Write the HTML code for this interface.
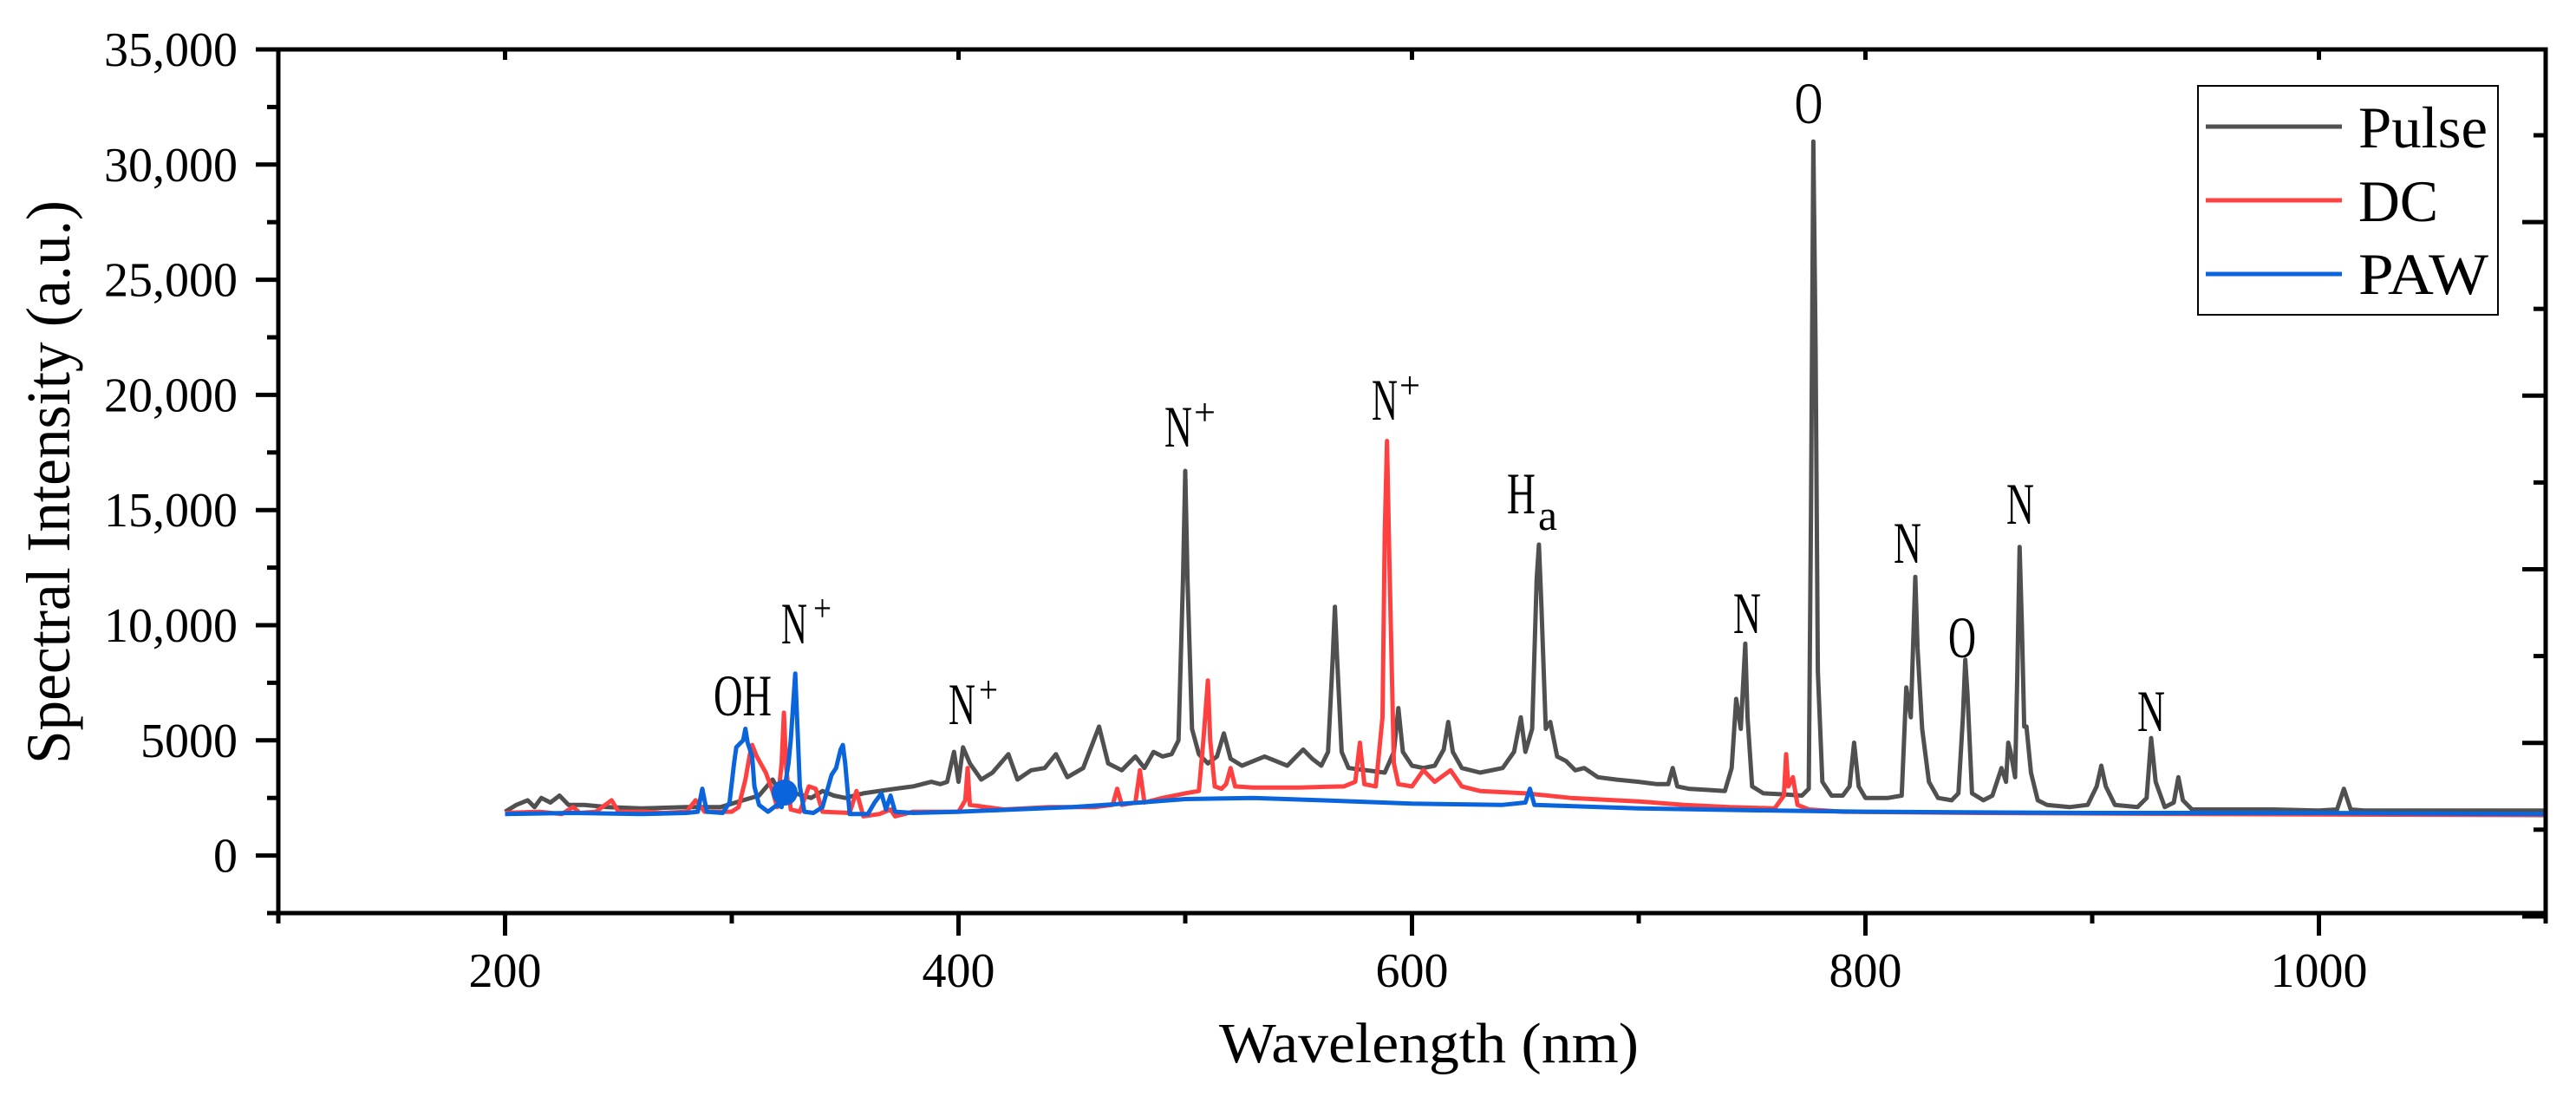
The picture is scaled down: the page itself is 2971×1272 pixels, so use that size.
<!DOCTYPE html>
<html><head><meta charset="utf-8"><style>
html,body{margin:0;padding:0;background:#fff;}
svg{display:block;font-family:"Liberation Serif",serif;}
</style></head><body>
<svg id="chart" width="2971" height="1272" viewBox="0 0 2971 1272" xmlns="http://www.w3.org/2000/svg">
<rect width="2971" height="1272" fill="#fff"/>
<g id="series"></g>
<g id="axes"></g>
<g id="labels" fill="#000">
  <text x="823" y="825" font-size="68" textLength="67" lengthAdjust="spacingAndGlyphs">OH</text>
  <text x="901" y="742" font-size="68" textLength="30" lengthAdjust="spacingAndGlyphs">N</text>
  <text x="938" y="716" font-size="44" textLength="21" lengthAdjust="spacingAndGlyphs">+</text>
  <text x="1094" y="835" font-size="68" textLength="31" lengthAdjust="spacingAndGlyphs">N</text>
  <text x="1129" y="810" font-size="44" textLength="22" lengthAdjust="spacingAndGlyphs">+</text>
  <text x="1343" y="515" font-size="68" textLength="32" lengthAdjust="spacingAndGlyphs">N</text>
  <text x="1377" y="490" font-size="44" textLength="25" lengthAdjust="spacingAndGlyphs">+</text>
  <text x="1582" y="484" font-size="68" textLength="30" lengthAdjust="spacingAndGlyphs">N</text>
  <text x="1614" y="459" font-size="44" textLength="24" lengthAdjust="spacingAndGlyphs">+</text>
  <text x="1738" y="592" font-size="68" textLength="33" lengthAdjust="spacingAndGlyphs">H</text>
  <text x="1774" y="611" font-size="50" textLength="22" lengthAdjust="spacingAndGlyphs">a</text>
  <text x="1999" y="730" font-size="68" textLength="32" lengthAdjust="spacingAndGlyphs">N</text>
  <text x="2070" y="142" font-size="68" textLength="32" lengthAdjust="spacingAndGlyphs">O</text>
  <text x="2184" y="649" font-size="68" textLength="32" lengthAdjust="spacingAndGlyphs">N</text>
  <text x="2247" y="758" font-size="68" textLength="32" lengthAdjust="spacingAndGlyphs">O</text>
  <text x="2314" y="604" font-size="68" textLength="32" lengthAdjust="spacingAndGlyphs">N</text>
  <text x="2465" y="843" font-size="68" textLength="32" lengthAdjust="spacingAndGlyphs">N</text>
</g>
<circle cx="905" cy="914" r="15" fill="#0a64dc"/>
<g>
  <rect x="2535" y="99" width="346" height="264" fill="#fff" stroke="#000" stroke-width="2"/>
  <line x1="2544" y1="146" x2="2701" y2="146" stroke="#505050" stroke-width="5"/>
  <line x1="2544" y1="231" x2="2701" y2="231" stroke="#ff4040" stroke-width="5"/>
  <line x1="2544" y1="316" x2="2701" y2="316" stroke="#0a64dc" stroke-width="5"/>
  <text x="2720" y="170" font-size="68" textLength="149" lengthAdjust="spacingAndGlyphs">Pulse</text>
  <text x="2720" y="255" font-size="68" textLength="92" lengthAdjust="spacingAndGlyphs">DC</text>
  <text x="2720" y="339" font-size="68" textLength="150" lengthAdjust="spacingAndGlyphs">PAW</text>
</g>
<text transform="translate(80,556) rotate(-90)" text-anchor="middle" font-size="72" textLength="650" lengthAdjust="spacingAndGlyphs">Spectral Intensity (a.u.)</text>
<text x="1648" y="1225" text-anchor="middle" font-size="66" textLength="484" lengthAdjust="spacingAndGlyphs">Wavelength (nm)</text>
</svg>
<script>
const pulseX=[200,205,210,213,216,220,224,228,235,245,260,280,295,305,312,318,322,328,335,340,345,350,358,365,372,380,388,392,395,398,400,402,405,410,415,422,426,432,438,443,448,455,462,466,472,478,482,486,490,494,497,499,500,501,503,506,510,514,517,520,525,530,535,540,545,548,552,556,560,563,565,566,567,569,572,580,588,592,594,596,600,605,610,614,616,618,622,630,640,645,648,650,653,655,656,657,659,661,664,668,672,676,682,690,700,708,713,715,717,722,730,738,741,743,745,747,748,750,755,765,772,775,776,777,778,779,781,785,790,793,795,797,800,810,816,818,820,822,823,825,828,832,838,841,843,844,845,847,852,856,858,860,862,863,864,866,867,868,869,870,871,873,876,880,890,898,902,904,906,910,920,924,926,928,932,936,938,940,944,960,980,1000,1008,1011,1014,1020,1050,1080,1100];
const pulseY=[1900,2200,2400,2100,2500,2300,2600,2200,2200,2100,2050,2100,2100,2400,2600,3300,2600,2700,2500,2800,2600,2500,2700,2800,2900,3000,3200,3100,3200,4500,3200,4700,4000,3300,3600,4400,3300,3700,3800,4400,3400,3800,5600,4000,3700,4300,3800,4500,4300,4400,5000,12000,16700,12000,5500,4400,4000,4300,5300,4200,3900,4100,4300,4100,3900,4200,4600,4200,3900,4500,8500,10800,8500,4500,3800,3700,3600,4500,6400,4500,3900,3800,3900,4600,5800,4500,3800,3600,3800,4500,6000,4500,5500,12000,13500,11000,5500,5800,4300,4100,3700,3800,3400,3300,3200,3100,3100,3800,3000,2900,2850,2800,3800,6800,5500,9200,6000,3000,2700,2650,2600,2900,15000,31000,22000,8000,3200,2600,2600,3000,4900,3000,2500,2500,2600,7300,6000,12100,9000,5500,3200,2500,2400,2700,6000,8500,7000,2700,2400,2600,3200,3800,3200,4900,4500,3400,8000,13400,10000,5600,5600,3600,2400,2200,2100,2200,3000,3900,3000,2200,2100,2500,5100,3200,2100,2300,3400,2400,2000,2000,2000,1950,2000,2900,2000,1950,1950,1950,1950];
const dcX=[200,215,225,230,233,240,247,250,262,270,280,284,288,300,303,306,308,309,311,315,318,320,322,323,324,326,330,334,337,340,352,355,358,365,370,372,380,400,403,404,405,420,440,460,468,470,472,478,480,482,490,500,506,508,510,511,513,516,518,520,522,530,550,570,575,577,579,584,587,588,589,590,592,594,600,605,610,617,622,630,650,670,700,720,740,760,764,765,766,768,770,775,790,850,950,1100];
const dcY=[1850,1900,1800,2100,1850,1900,2400,1900,1900,1850,1900,2400,1900,1900,2100,3300,4400,4800,4300,3600,2800,2100,4000,6200,3800,2000,1900,3000,2900,1900,1850,2800,1700,1800,2000,1700,1900,1900,2400,3800,2200,2000,2100,2100,2200,2900,2200,2300,3700,2300,2500,2700,2800,5000,7600,5000,3000,2900,3100,3800,3000,2950,2950,3000,3200,4900,3100,3000,6000,14000,18000,13000,4000,3100,3000,3700,3200,3700,3000,2800,2700,2500,2350,2200,2100,2050,2600,4400,3000,3400,2200,2000,1900,1850,1800,1750];
const pawX=[200,230,260,280,285,287,289,296,299,301,302,305,306,307,309,310,312,316,320,322,325,326,328,329,330,332,336,340,344,346,348,349,350,352,360,363,366,368,370,372,380,400,450,480,500,530,560,600,640,650,652,654,700,760,800,900,1000,1100];
const pawY=[1800,1850,1800,1850,1900,2900,1900,1850,2300,4000,4700,5000,5500,4900,4300,3000,2200,1900,2200,2100,4000,5000,7900,5500,3000,1900,1850,2100,3500,3800,4600,4800,4000,1800,1800,2300,2700,2000,2600,1900,1850,1900,2100,2300,2450,2500,2400,2250,2200,2300,2900,2200,2050,1950,1900,1850,1850,1800];
const yTicks=[0,5000,10000,15000,20000,25000,30000,35000];
const yTickLabels=["0","5000","10,000","15,000","20,000","25,000","30,000","35,000"];
const xTicks=[200,400,600,800,1000];
const xTickLabels=["200","400","600","800","1000"];

const X0=321,X1=2936,Y0=57,Y1=1053;
const XMIN=100,XMAX=1100,YMIN=-2500,YMAX=35000;
function xs(v){return X0+(v-XMIN)/(XMAX-XMIN)*(X1-X0);}
function ys(v){return Y1-(v-YMIN)/(YMAX-YMIN)*(Y1-Y0);}
const NS="http://www.w3.org/2000/svg";
const series=document.getElementById('series');
function drawSeries(xa,ya,color,name){
  const p=document.createElementNS(NS,'polyline');
  p.setAttribute('points',xa.map((x,i)=>xs(x).toFixed(1)+','+ys(ya[i]).toFixed(1)).join(' '));
  p.setAttribute('fill','none');p.setAttribute('stroke',color);p.setAttribute('stroke-width','5');
  p.setAttribute('stroke-linejoin','round');
  
  
  series.appendChild(p);
}
drawSeries(pulseX,pulseY,'#505050','series-pulse');
drawSeries(dcX,dcY,'#ff4040','series-dc');
drawSeries(pawX,pawY,'#0a64dc','series-paw');

const axes=document.getElementById('axes');
function ln(x1,y1,x2,y2,w,name){
  const l=document.createElementNS(NS,'line');
  l.setAttribute('x1',x1);l.setAttribute('y1',y1);l.setAttribute('x2',x2);l.setAttribute('y2',y2);
  l.setAttribute('stroke','#000');l.setAttribute('stroke-width',w);
  
  
  axes.appendChild(l);
}
function tx(x,y,s,anchor,name){
  const t=document.createElementNS(NS,'text');
  t.setAttribute('x',x);t.setAttribute('y',y);t.setAttribute('font-size','56');t.setAttribute('text-anchor',anchor);
  t.textContent=s;
  
  
  axes.appendChild(t);
}
const f=document.createElementNS(NS,'rect');
f.setAttribute('x',X0);f.setAttribute('y',Y0);f.setAttribute('width',X1-X0);f.setAttribute('height',Y1-Y0);
f.setAttribute('fill','none');f.setAttribute('stroke','#000');f.setAttribute('stroke-width','5');


axes.appendChild(f);
yTicks.forEach((v,i)=>{
  ln(X0-26,ys(v),X0,ys(v),5,'y-tick');
  tx(274,ys(v)+19,yTickLabels[i],'end','y-tick-label');
});
for(let v=-2500;v<35000;v+=5000){ln(X0-13,ys(v),X0,ys(v),5,'y-minor-tick');}
xTicks.forEach((v,i)=>{
  ln(xs(v),Y1,xs(v),Y1+26,5,'x-tick');
  ln(xs(v),Y0,xs(v),Y0+12,5,'x-top-tick');
  tx(xs(v),1138,xTickLabels[i],'middle','x-tick-label');
});
for(let v=100;v<=1100;v+=200){ln(xs(v),Y1,xs(v),Y1+12,5,'x-minor-tick');}
for(let k=0;k<10;k++){
  const y=156+k*100.1;
  ln(X1-(k%2?27:14),y,X1,y,5,'right-tick');
}
</script>
</body></html>
